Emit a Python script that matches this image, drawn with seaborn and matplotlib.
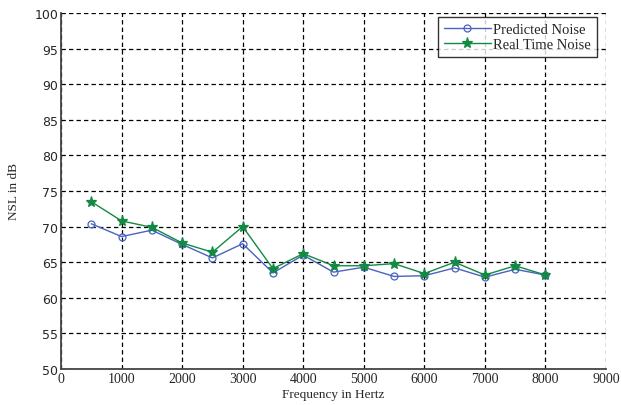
import matplotlib
matplotlib.use("Agg")
import matplotlib.pyplot as plt
import seaborn as sns
import pandas as pd

freq = [500, 1000, 1500, 2000, 2500, 3000, 3500, 4000, 4500, 5000, 5500, 6000, 6500, 7000, 7500, 8000]
predicted = [70.4, 68.6, 69.5, 67.5, 65.6, 67.6, 63.5, 66.0, 63.6, 64.3, 63.0, 63.1, 64.2, 62.9, 64.0, 63.2]
real_time = [73.5, 70.8, 69.9, 67.7, 66.4, 70.0, 64.1, 66.2, 64.5, 64.5, 64.8, 63.4, 65.0, 63.2, 64.5, 63.2]

xticks = list(range(0, 9001, 1000))
yticks = list(range(50, 101, 5))

sns.set_style("white")
plt.rcParams["font.family"] = ["Liberation Serif", "DejaVu Serif"]

df = pd.DataFrame({
    "freq": freq * 2,
    "nsl": predicted + real_time,
    "series": ["Predicted Noise"] * len(freq) + ["Real Time Noise"] * len(freq),
})

fig = plt.figure(figsize=(6.21, 4.06), dpi=100)
ax = fig.add_axes([61 / 621, 1 - 370 / 406, 545 / 621, 356 / 406])

palette = {"Predicted Noise": "#4a62c0", "Real Time Noise": "#138a44"}
markers = {"Predicted Noise": "o", "Real Time Noise": "*"}
for name in ["Predicted Noise", "Real Time Noise"]:
    sub = df[df["series"] == name]
    mk = markers[name]
    sns.lineplot(
        data=sub, x="freq", y="nsl", ax=ax, color=palette[name], linewidth=1.0,
        marker=mk, markersize=5 if mk == "o" else 8,
        markerfacecolor="none" if mk == "o" else palette[name],
        markeredgecolor=palette[name], markeredgewidth=0.9, label=name,
    )

ax.set_xlim(0, 9000)
ax.set_ylim(50, 100)
ax.set_xticks(xticks)
ax.set_yticks(yticks)
ax.tick_params(axis="both", length=0, pad=2)
ax.tick_params(axis="x", labelsize=10)
for lbl in ax.get_yticklabels():
    lbl.set_fontfamily("DejaVu Sans")
    lbl.set_fontsize(9)
ax.grid(True, color="black", linestyle=(0, (3.5, 2.5)), linewidth=0.9)
for side in ["top", "right"]:
    ax.spines[side].set_visible(False)
for side in ["left", "bottom"]:
    ax.spines[side].set_color("#444444")
    ax.spines[side].set_linewidth(1.3)

ax.set_xlabel("Frequency in Hertz", fontsize=9.5, labelpad=2)
ax.set_ylabel("NSL in dB", fontsize=9.5, labelpad=10)

leg = ax.legend(loc="upper right", fontsize=10.5, frameon=True, fancybox=False,
                bbox_to_anchor=(0.9835, 0.989), borderaxespad=0.0,
                handlelength=3.2, handletextpad=0.2, borderpad=0.4, labelspacing=0.15)
leg.get_frame().set_edgecolor("black")
leg.get_frame().set_linewidth(1.0)

fig.savefig("out.png", dpi=100)
